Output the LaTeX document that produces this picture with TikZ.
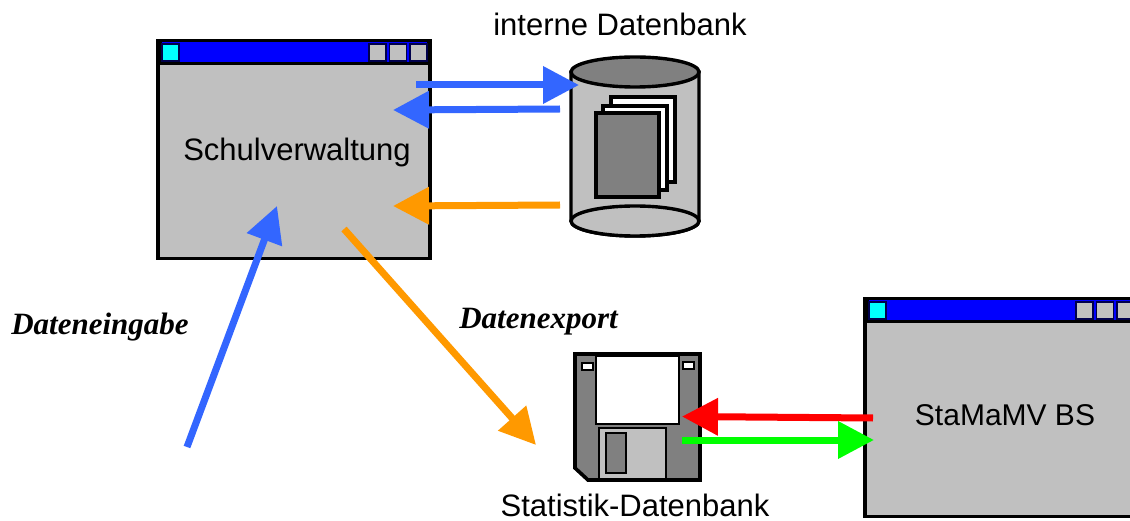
\documentclass[tikz,border=0pt]{standalone}
\usepackage{fontspec}
\setmainfont{Liberation Sans}
\newfontfamily\labelserif{Liberation Serif}
\usetikzlibrary{arrows.meta}
\definecolor{flowblue}{HTML}{3366FF}
\definecolor{floworange}{HTML}{FF9900}
\definecolor{winbar}{HTML}{0000FF}
\definecolor{wincyanfill}{HTML}{00FFFF}
\definecolor{wingray}{HTML}{C0C0C0}
\definecolor{darkgray}{HTML}{808080}
\definecolor{flowgreen}{HTML}{00FF00}
\definecolor{flowred}{HTML}{FF0000}
\tikzset{
  box/.style={rectangle,draw=black,inner sep=0pt,outer sep=0pt},
  winframe/.style={box,line width=3.8pt,fill=wingray},
  winbarbox/.style={box,line width=3pt,fill=winbar},
  winbtn/.style={box,line width=1.1pt,draw=black!70!winbar,fill=wingray,minimum width=17pt,minimum height=17pt},
  wincyan/.style={winbtn,fill=wincyanfill},
  page/.style={box,line width=3.4pt},
  flow/.style={line width=7pt,-{Triangle[length=36pt,width=36pt]}},
  bigtext/.style={font=\fontsize{31}{34}\selectfont,inner sep=0pt},
  emtext/.style={font=\labelserif\bfseries\itshape\fontsize{31}{34}\selectfont,inner sep=0pt},
}
\begin{document}
\begin{tikzpicture}[x=1pt,y=-1pt]
\useasboundingbox (0,0) rectangle (1130,521);
\fill[white] (0,0) rectangle (1130,521);
\clip (0,0) rectangle (1130,521);
% Window Schulverwaltung
\node[winframe,minimum width=272pt,minimum height=218pt] (win1) at (294,149.5) {};
\node[winbarbox,minimum width=268pt,minimum height=23pt] (bar1) at (294,52.5) {};
\node[wincyan] (c1) at (170.5,52.5) {};
\node[winbtn] (b11) at (377.5,52.5) {};
\node[winbtn] (b12) at (398,52.5) {};
\node[winbtn] (b13) at (418.5,52.5) {};
\node[bigtext] (t1) at (297,152) {Schulverwaltung};
% Window StaMaMV BS
\node[winframe,minimum width=272pt,minimum height=218pt] (win2) at (1001,407.5) {};
\node[winbarbox,minimum width=268pt,minimum height=23pt] (bar2) at (1001,310.5) {};
\node[wincyan] (c2) at (877.5,310.5) {};
\node[winbtn] (b21) at (1084.5,310.5) {};
\node[winbtn] (b22) at (1105,310.5) {};
\node[winbtn] (b23) at (1125.5,310.5) {};
\node[bigtext,font=\fontsize{30}{34}\selectfont] (t2) at (1005,415) {StaMaMV BS};
% Database cylinder
\draw[line width=3.4pt,fill=wingray] (571,72) -- (571,221) arc[start angle=180,end angle=0,x radius=64,y radius=15] -- (699,72) -- cycle;
\draw[line width=3.4pt,fill=darkgray] (635,72) ellipse[x radius=64,y radius=15];
\draw[line width=3.4pt,fill=wingray] (635,221) ellipse[x radius=64,y radius=15];
\node[page,fill=white,minimum width=64pt,minimum height=85pt] (p3) at (643,139.5) {};
\node[page,fill=white,minimum width=64pt,minimum height=84pt] (p2) at (635,148) {};
\node[page,fill=darkgray,minimum width=63pt,minimum height=84pt] (p1) at (627.5,155) {};
\node[bigtext] (t3) at (620,24) {interne Datenbank};
% Floppy
\draw[line width=3.6pt,fill=darkgray] (575,354) -- (700,354) -- (700,480) -- (588,480) -- (575,468) -- cycle;
\node[box,line width=1.4pt,fill=white,minimum width=83pt,minimum height=68pt] (lbl) at (637.5,390) {};
\node[box,line width=1.2pt,fill=white,minimum width=11pt,minimum height=7pt] (h1) at (587.5,366.5) {};
\node[box,line width=1.2pt,fill=white,minimum width=11pt,minimum height=7pt] (h2) at (688.5,365.5) {};
\node[box,line width=1.2pt,fill=wingray,minimum width=67pt,minimum height=51pt] (sh) at (632.5,453.5) {};
\node[box,line width=1.2pt,fill=darkgray,minimum width=20pt,minimum height=40pt] (sl) at (616,453) {};
\node[bigtext] (t4) at (635,505.5) {Statistik-Datenbank};
% Emphasised labels
\node[emtext] (t5) at (100,327) {Dateneingabe};
\node[emtext] (t6) at (538.5,322) {Datenexport};
% Connector ends
\coordinate (a1s) at (416,85);  \coordinate (a1e) at (579,85);
\coordinate (a2s) at (560,109); \coordinate (a2e) at (393,110);
\coordinate (a3s) at (560,205); \coordinate (a3e) at (393,206);
\coordinate (a4s) at (344,229); \coordinate (a4e) at (536,445);
\coordinate (a5s) at (187,447); \coordinate (a5e) at (277,206);
\coordinate (a6s) at (873,418); \coordinate (a6e) at (682,416.5);
\coordinate (a7s) at (682,440); \coordinate (a7e) at (874,440);
\draw[flow,flowblue] (a1s) -- (a1e);
\draw[flow,flowblue] (a2s) -- (a2e);
\draw[flow,floworange] (a3s) -- (a3e);
\draw[flow,floworange] (a4s) -- (a4e);
\draw[flow,flowblue] (a5s) -- (a5e);
\draw[flow,flowred] (a6s) -- (a6e);
\draw[flow,flowgreen] (a7s) -- (a7e);
\end{tikzpicture}
\end{document}
